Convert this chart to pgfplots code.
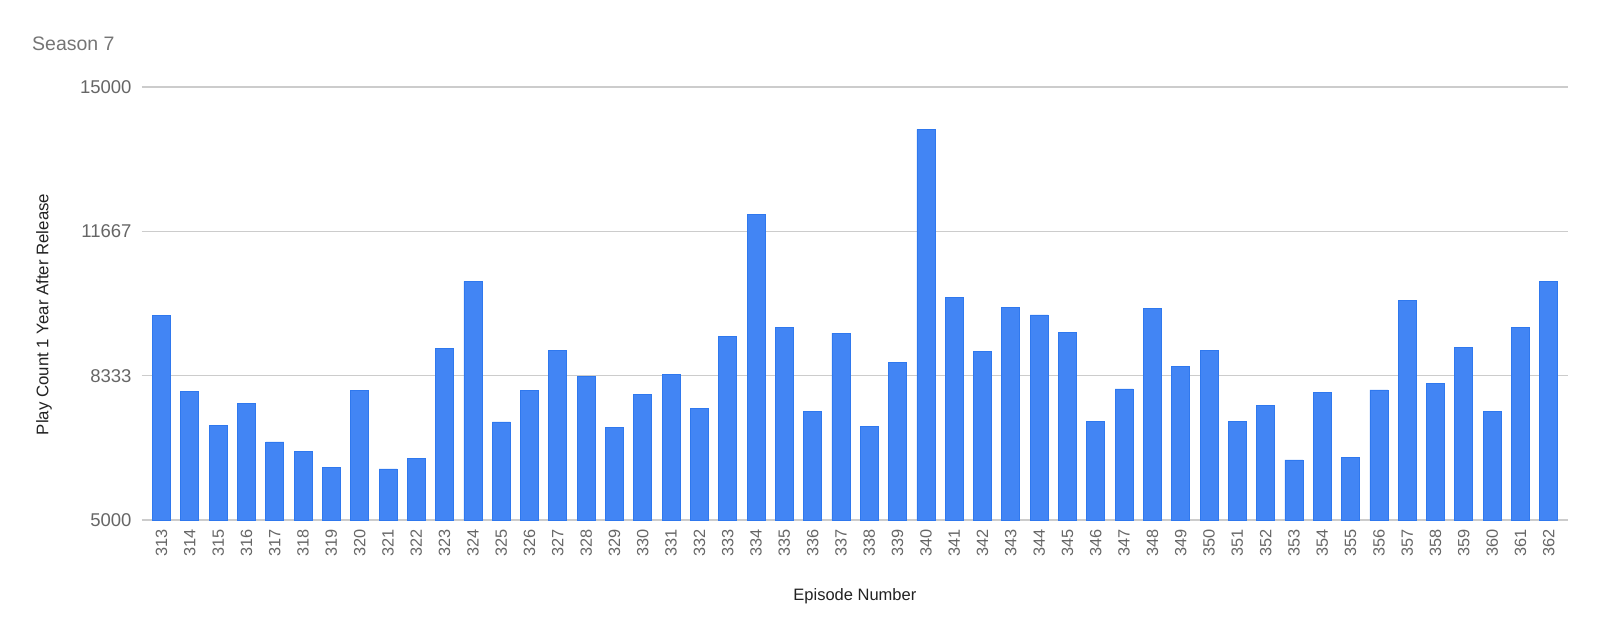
\documentclass[border=0pt]{standalone}
\usepackage{fontspec}
\setmainfont{Liberation Sans}
\usepackage{pgfplots}
\pgfplotsset{compat=1.18}
\usepackage{pgfplotstable}
\definecolor{barblue}{HTML}{4285F4}
\definecolor{baredge}{HTML}{2F78EE}
\definecolor{gridgray}{HTML}{CCCCCC}
\definecolor{ticktext}{HTML}{666666}
\definecolor{titletext}{HTML}{757575}
\definecolor{labeltext}{HTML}{222222}
\pgfplotstableread{
ep count
313 9718
314 7966
315 7179
316 7701
317 6803
318 6581
319 6205
320 8000
321 6179
322 6427
323 8957
324 10513
325 7264
326 7995
327 8908
328 8318
329 7137
330 7896
331 8364
332 7574
333 9230
334 12065
335 9444
336 7505
337 9314
338 7153
339 8647
340 14020
341 10134
342 8885
343 9919
344 9736
345 9337
346 7268
347 8026
348 9896
349 8540
350 8915
351 7268
352 7651
353 6386
354 7942
355 6448
356 8003
357 10073
358 8157
359 8984
360 7513
361 9444
362 10517
}\datatable
\begin{document}
\begin{tikzpicture}[x=1pt,y=1pt]
\useasboundingbox (0,0) rectangle (1600,637);
\node[anchor=base west, text=titletext, font=\fontsize{19.5}{22}\selectfont, inner sep=0pt] at (32,586.3) {Season 7};
\begin{axis}[
  at={(141.7pt,117pt)}, anchor=south west,
  width=1426.3pt, height=433pt, scale only axis,
  ybar, bar width=18pt,
  xmin=312.3, xmax=362.68,
  ymin=5000, ymax=15000,
  xtick=data,
  scaled y ticks=false,
  ytick={5000,8333.333,11666.667,15000},
  yticklabels={5000,8333,11667,15000},
  /pgf/number format/assume math mode=true,
  /pgf/number format/set thousands separator={},
  axis line style={draw=none},
  major tick length=0pt,
  ymajorgrids,
  major grid style={draw=gridgray, line width=1.3pt},
  xticklabel style={rotate=90, anchor=east, text=ticktext, font=\fontsize{16.3}{18}\selectfont, inner sep=0pt, xshift=-9pt},
  yticklabel style={text=ticktext, font=\fontsize{18.5}{20}\selectfont, inner sep=0pt, xshift=-10pt},
  xlabel={Episode Number},
  xlabel style={at={(axis description cs:0.5,-0.1848)}, anchor=base, text=labeltext, font=\fontsize{16.5}{18}\selectfont},
  ylabel={Play Count 1 Year After Release},
  ylabel style={at={(axis description cs:-0.0685,0.4746)}, anchor=center, rotate=0, text=labeltext, font=\fontsize{16.8}{18}\selectfont},
  clip=true,
]
\addplot[fill=barblue, draw=baredge, line width=0.8pt] table[x=ep, y=count] {\datatable};
\end{axis}
\end{tikzpicture}
\end{document}
